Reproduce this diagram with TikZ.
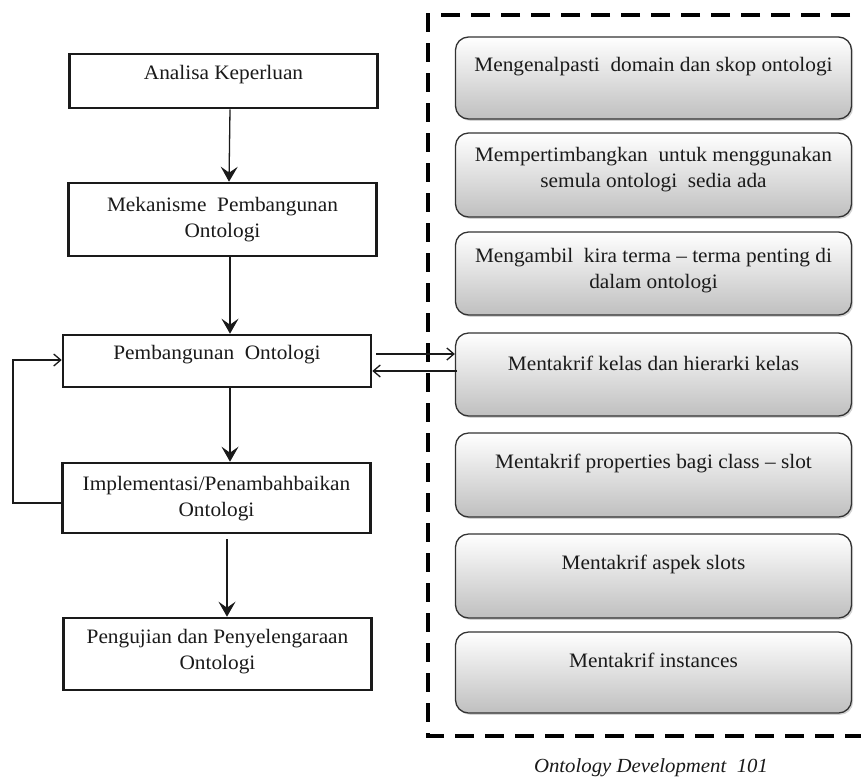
\documentclass[tikz,border=0pt]{standalone}
\usepackage{fontspec}
\setmainfont{Liberation Serif}[FakeStretch=1.04]
\usetikzlibrary{arrows.meta,shadows}
\definecolor{ink}{HTML}{1A1A1A}
\definecolor{rborder}{HTML}{333333}
\tikzset{
  lbox/.style={draw=ink, line width=2.6pt, fill=white, minimum width=308pt, inner sep=0pt},
  rbox/.style={draw=rborder, line width=1.3pt, rounded corners=13pt, top color=white, bottom color=black!25,
     minimum width=396pt, inner sep=0pt,
     drop shadow={shadow xshift=1.6pt, shadow yshift=-1.8pt, opacity=0.35}},
  txt/.style={font=\fontsize{20.5}{26}\selectfont, text=ink, align=center, inner sep=0pt},
  conn/.style={draw=ink, line width=1.3pt},
  downarr/.style={conn, -{Stealth[length=15pt,width=17pt,inset=6pt]}},
  thinarr/.style={conn, -{Straight Barb[length=7pt,width=12pt,line width=1.3pt]}},
  dashframe/.style={draw=black, line width=4pt, dash pattern=on 19pt off 11pt}
}
\begin{document}
\begin{tikzpicture}[x=1pt,y=-1pt]
\useasboundingbox (0,0) rectangle (861,780);
% dashed frame
\draw[dashframe] (880,15) -- (428,15) -- (428,736) -- (880,736);
% left boxes
\node[lbox, minimum height=54pt] (a) at (223.5,81) {};
\node[txt] (ta) at ([yshift=6pt]a.center) {Analisa Keperluan};
\node[lbox, minimum height=73pt] (b) at (222.5,219.5) {};
\node[txt] (tb) at (b.center) {Mekanisme~~Pembangunan\\Ontologi};
\node[lbox, minimum height=52pt] (c) at (217,361) {};
\node[txt] (tc) at ([yshift=6pt]c.center) {Pembangunan~~Ontologi};
\node[lbox, minimum height=70pt] (d) at (216.5,498) {};
\node[txt] (td) at ([yshift=-1pt]d.center) {Implementasi/Penambahbaikan\\Ontologi};
\node[lbox, minimum height=72pt] (e) at (217.5,654) {};
\node[txt] (te) at ([yshift=2pt]e.center) {Pengujian dan Penyelengaraan\\Ontologi};
% right boxes
\node[rbox, minimum height=82pt] (r1) at (653.5,78) {};
\node[txt] (t1) at ([yshift=11pt]r1.center) {Mengenalpasti~~domain dan skop ontologi};
\node[rbox, minimum height=84pt] (r2) at (653.5,175) {};
\node[txt] (t2) at ([yshift=5pt]r2.center) {Mempertimbangkan~~untuk menggunakan\\semula ontologi~~sedia ada};
\node[rbox, minimum height=83pt] (r3) at (653.5,273.5) {};
\node[txt] (t3) at ([yshift=3pt]r3.center) {Mengambil~~kira terma -- terma penting di\\dalam ontologi};
\node[rbox, minimum height=83pt] (r4) at (653.5,374.5) {};
\node[txt] (t4) at ([yshift=11pt]r4.center) {Mentakrif kelas dan hierarki kelas};
\node[rbox, minimum height=84pt] (r5) at (653.5,475) {};
\node[txt] (t5) at ([yshift=12pt]r5.center) {Mentakrif properties bagi class -- slot};
\node[rbox, minimum height=84pt] (r6) at (653.5,576) {};
\node[txt] (t6) at ([yshift=12pt]r6.center) {Mentakrif aspek slots};
\node[rbox, minimum height=81pt] (r7) at (653.5,672.5) {};
\node[txt] (t7) at ([yshift=12pt]r7.center) {Mentakrif instances};
% caption
\node[txt, font=\fontsize{20}{24}\selectfont\itshape] (cap) at (651,768) {Ontology Development~~101};
% vertical arrows
\draw[downarr] ([xshift=6.5pt]a.south) -- ([xshift=6.5pt]b.north);
\draw[downarr] ([xshift=7.5pt]b.south) -- ([xshift=13pt]c.north);
\draw[downarr] ([xshift=13pt]c.south) -- ([xshift=13.5pt]d.north);
\draw[downarr, shorten <=5pt] ([xshift=10.5pt]d.south) -- ([xshift=9.5pt]e.north);
% feedback loop
\coordinate (fb1) at (13,503);
\coordinate (fb2) at (13,360);
\draw[thinarr] (d.west |- fb1) -- (fb1) -- (fb2) -- (c.west |- fb2);
% horizontal arrows
\coordinate (h1) at (376,354);
\coordinate (h2) at (457,371);
\draw[thinarr] (h1) -- (r4.west |- h1);
\draw[thinarr] (h2) -- (h2 -| c.east);
\end{tikzpicture}
\end{document}
